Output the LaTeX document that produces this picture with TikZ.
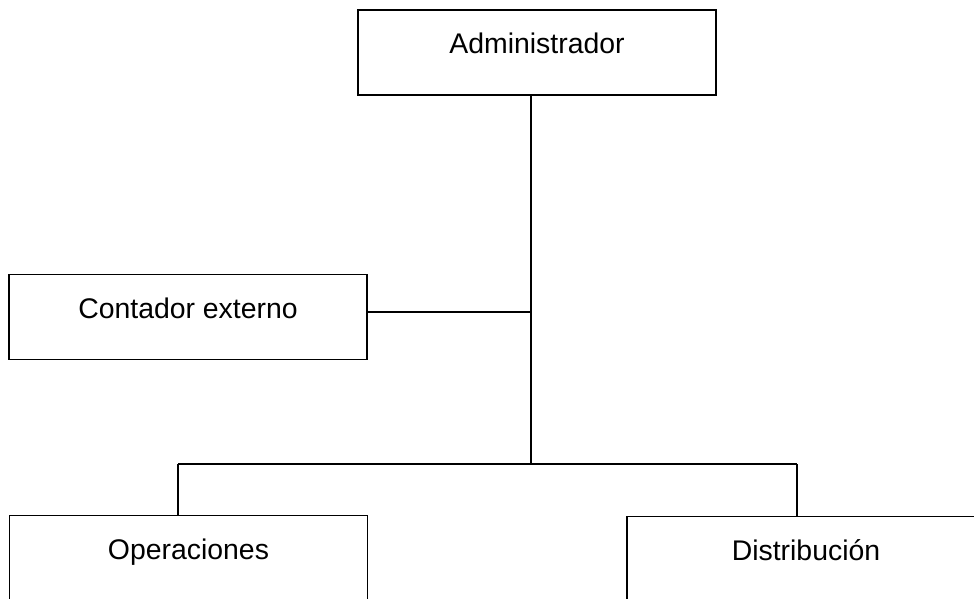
\documentclass[tikz,border=0pt]{standalone}
\usepackage{fontspec}
\setmainfont{Liberation Sans}
\tikzset{
	orgbox/.style={draw=black, line width=0.9pt, rectangle, inner sep=0pt,
		minimum width=179pt, text height=22pt, text depth=20.5pt,
		font=\fontsize{14.2}{17}\selectfont}
}
\begin{document}
\begin{tikzpicture}[x=0.5pt, y=-0.5pt]
		\useasboundingbox (0,0) rectangle (974,599);
		\clip (0,0) rectangle (974,599);
		\node[orgbox] (admin) at (537,52.5) {Administrador};
		\node[orgbox] (contador) at (188,317) {Contador externo};
		\node[orgbox] (operaciones) at (188.5,558) {Operaciones};
		\node[orgbox] (distribucion) at (806,559) {Distribución};
		\coordinate (junc) at (531,312);
		\coordinate (hub) at (531,464);
		\coordinate (lft) at (178,464);
		\coordinate (rgt) at (797,464);
		\draw[line width=0.9pt] (admin.south -| hub) -- (hub);
		\draw[line width=0.9pt] (contador.east |- junc) -- (junc);
		\draw[line width=0.9pt] (lft) -- (rgt);
		\draw[line width=0.9pt] (lft) -- (lft |- operaciones.north);
		\draw[line width=0.9pt] (rgt) -- (rgt |- distribucion.north);
	\end{tikzpicture}
\end{document}
